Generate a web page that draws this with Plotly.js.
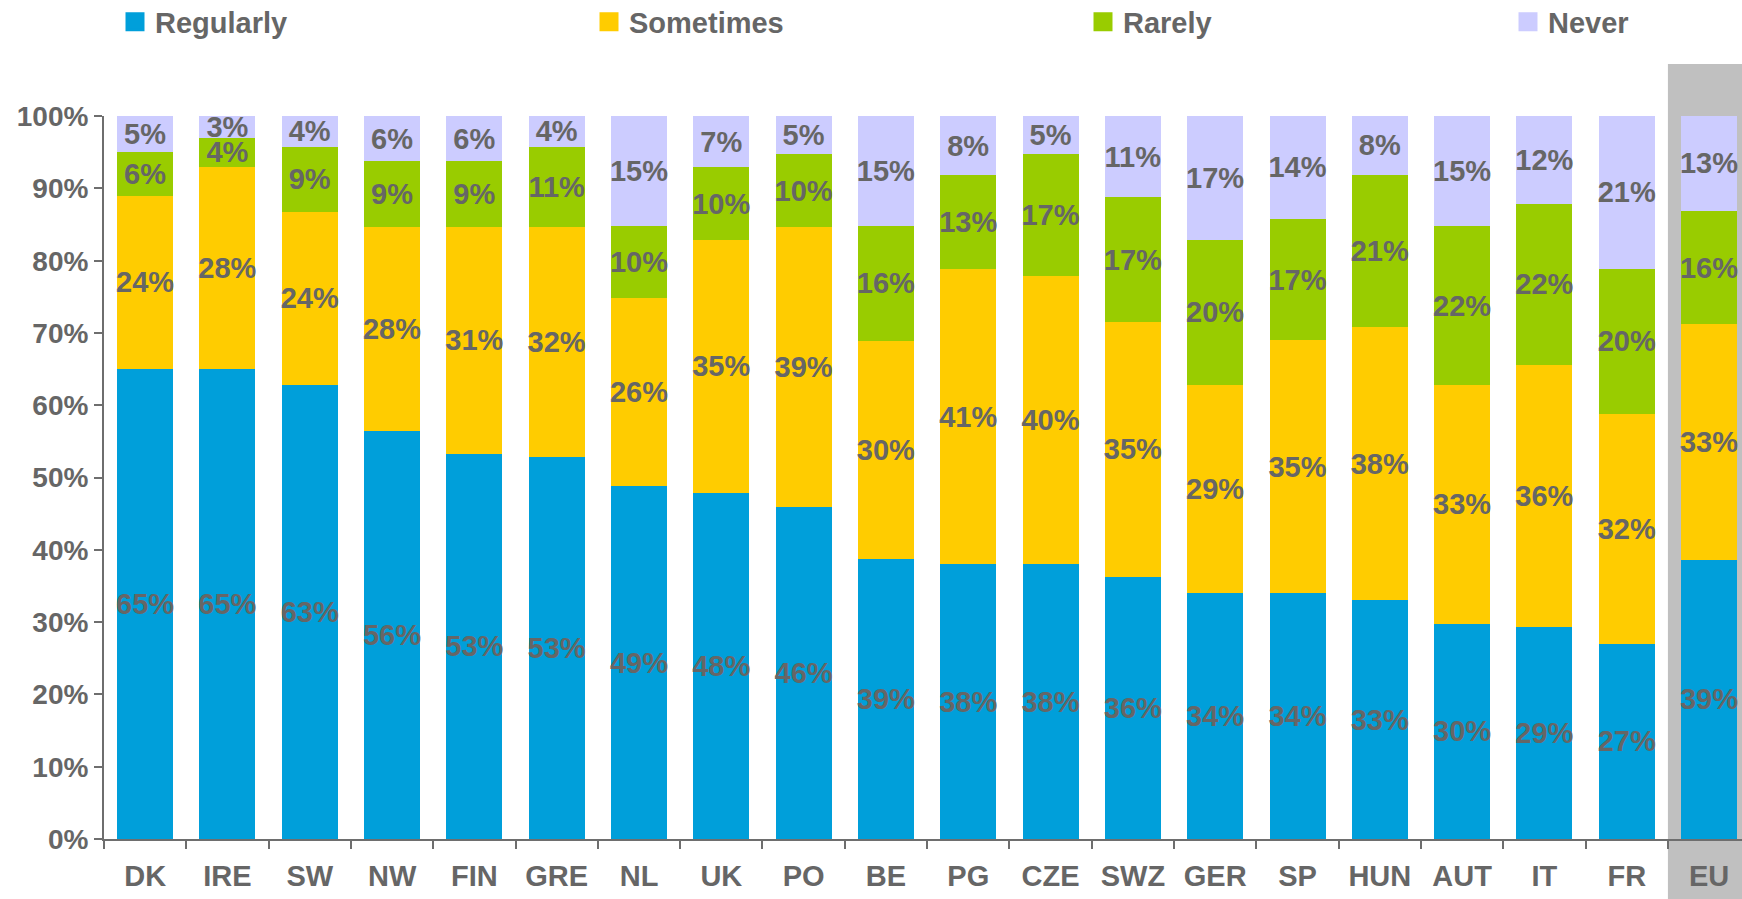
<!DOCTYPE html>
<html>
<head>
<meta charset="utf-8">
<script src="https://cdn.plot.ly/plotly-3.0.1.min.js"></script>
<style>
  html, body { margin: 0; padding: 0; background: #ffffff; }
  #chart { width: 1742px; height: 899px; }
</style>
</head>
<body>
<div id="chart"></div>
<script>
// ---- data ----
const countries = ["DK","IRE","SW","NW","FIN","GRE","NL","UK","PO","BE","PG","CZE","SWZ","GER","SP","HUN","AUT","IT","FR","EU"];
const regularly = [65.0,65.0,62.8,56.4,53.3,52.8,48.8,47.9,45.9,38.8,38.0,38.0,36.3,34.0,34.0,33.0,29.8,29.3,27.0,38.6];
const sometimes = [24.0,28.0,24.0,28.3,31.4,31.8,26.0,35.0,38.8,30.1,40.8,39.9,35.2,28.8,35.0,37.8,33.0,36.3,31.8,32.6];
const rarely    = [ 6.0, 4.0, 9.0, 9.1, 9.1,11.2,10.0,10.0,10.0,15.9,13.0,16.8,17.3,20.1,16.8,21.1,22.0,22.3,20.1,15.7];
const never     = [ 5.0, 3.0, 4.2, 6.2, 6.2, 4.2,15.2, 7.1, 5.3,15.2, 8.2, 5.3,11.2,17.1,14.2, 8.1,15.2,12.1,21.1,13.1];
const seriesNames = ["Regularly","Sometimes","Rarely","Never"];
const seriesValues = [regularly, sometimes, rarely, never];
const seriesColors = ["#009FDA","#FFCC00","#99CC00","#CCCCFF"];
const yTickVals = [0,10,20,30,40,50,60,70,80,90,100];
const yTickText = ["0%","10%","20%","30%","40%","50%","60%","70%","80%","90%","100%"];

// ---- layout helpers ----
const W = 1742, H = 899;
const mL = 104, mR = 0, mT = 116, mB = 60;
const plotW = W - mL - mR, plotH = H - mT - mB;
const textColor = "#666666";
const fontFam = "'Liberation Sans', Arial, Helvetica, sans-serif";
const legendCenters = [135, 609, 1103, 1528];
const legendNames = ["legend","legend2","legend3","legend4"];

const barTraces = seriesNames.map((name, i) => ({
  type: "bar",
  name: name,
  x: countries,
  y: seriesValues[i],
  marker: { color: seriesColors[i], line: { width: 0 } },
  texttemplate: "%{y:.0f}%",
  textposition: "inside",
  insidetextanchor: "middle",
  constraintext: "none",
  textangle: 0,
  textfont: { family: fontFam, size: 29, color: textColor, weight: "bold" },
  hoverinfo: "x+y+name",
  showlegend: false,
  legendgroup: name,
  cliponaxis: false
}));

// legend-only entries (larger square keys, like the original)
const legendTraces = seriesNames.map((name, i) => ({
  type: "scatter",
  mode: "markers",
  name: name,
  x: [null], y: [null],
  marker: { symbol: "square", size: 16, color: seriesColors[i], line: { color: seriesColors[i], width: 3 } },
  legend: legendNames[i],
  legendgroup: name,
  showlegend: true,
  hoverinfo: "skip"
}));

const layout = {
  width: W, height: H,
  margin: { l: mL, r: mR, t: mT, b: mB, pad: 0, autoexpand: false },
  paper_bgcolor: "#ffffff",
  plot_bgcolor: "rgba(0,0,0,0)",
  barmode: "stack",
  bargap: 0.32,
  font: { family: fontFam, color: textColor },
  showlegend: true,
  xaxis: {
    type: "category",
    range: [-0.5, 19.4],
    showgrid: false,
    showline: true, linecolor: "#6e6e6e", linewidth: 2,
    ticks: "outside", tickson: "boundaries", ticklen: 8, tickwidth: 2, tickcolor: "#6e6e6e",
    tickfont: { family: fontFam, size: 29, color: textColor, weight: "bold" },
    ticklabelstandoff: 10,
    automargin: false,
    fixedrange: true
  },
  yaxis: {
    range: [0, 100.02],
    tickmode: "array",
    tickvals: yTickVals,
    ticktext: yTickText,
    showgrid: false, zeroline: false,
    showline: true, linecolor: "#6e6e6e", linewidth: 2,
    ticks: "outside", ticklen: 8, tickwidth: 2, tickcolor: "#6e6e6e",
    tickfont: { family: fontFam, size: 28, color: textColor, weight: "bold" },
    automargin: false,
    fixedrange: true
  },
  shapes: [{
    type: "rect", layer: "below",
    xref: "x", yref: "paper",
    x0: 18.5, x1: 20.5,
    y0: -(H - mT - plotH) / plotH - 0.01, y1: 1 + (mT - 64) / plotH,
    fillcolor: "#C0C0C0", line: { width: 0 }
  }]
};

legendNames.forEach((ln, i) => {
  layout[ln] = {
    orientation: "h",
    x: (legendCenters[i] - 20 - mL) / plotW,
    xanchor: "left",
    y: 1 + (mT - 22) / plotH,
    yanchor: "middle",
    bgcolor: "rgba(0,0,0,0)",
    itemsizing: "trace",
    font: { family: fontFam, size: 29, color: textColor, weight: "bold" }
  };
});

Plotly.newPlot("chart", barTraces.concat(legendTraces), layout, { displayModeBar: false, staticPlot: true });
</script>
</body>
</html>
